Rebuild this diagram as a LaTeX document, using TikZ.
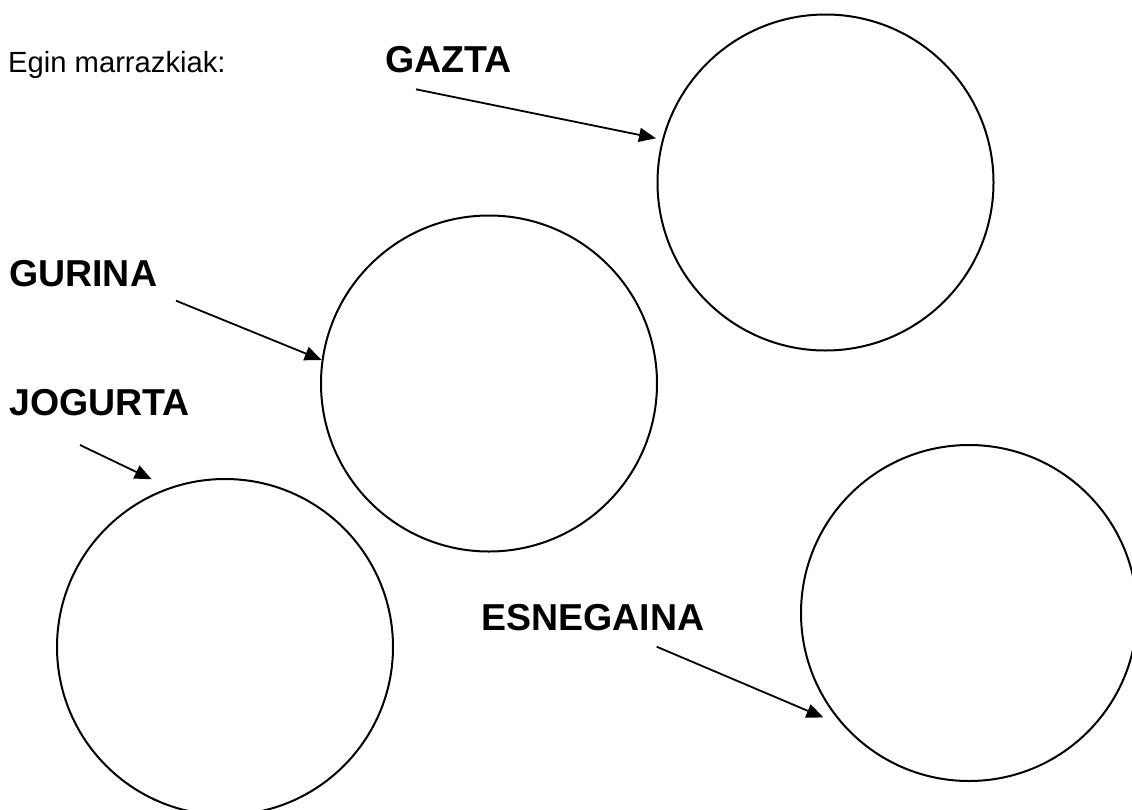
\documentclass[tikz,border=0pt]{standalone}
\usepackage{fontspec}
\setmainfont{Liberation Sans}
\usetikzlibrary{arrows.meta}
\tikzset{
  ring/.style={circle, draw=black, line width=2pt, minimum size=336pt, inner sep=0pt},
  lbl/.style={anchor=base west, inner sep=0pt, font=\fontsize{37.5}{44}\selectfont\bfseries},
  intro/.style={anchor=base west, inner sep=0pt, font=\fontsize{29.2}{34}\selectfont},
  pointer/.style={line width=1.8pt, -{Triangle[length=17pt,width=14pt]}}
}
\begin{document}
\begin{tikzpicture}[x=1pt,y=-1pt]
\fill[white] (0,0) rectangle (1132,809);
\useasboundingbox (0,0) rectangle (1132,809);
\begin{scope}
\clip (0,0) rectangle (1132,809);
\node[ring] (gazta) at (825.5,182.5) {};
\node[ring] (gurina) at (489,383.5) {};
\node[ring] (jogurta) at (225,647) {};
\node[ring] (esne) at (969,613) {};
\end{scope}
\node[intro] (egin) at (8,72.3) {Egin marrazkiak:};
\node[lbl] (tgazta) at (385,72.7) {GAZTA};
\node[lbl] (tgurina) at (9,286.7) {GURINA};
\node[lbl] (tjogurta) at (9.3,415) {JOGURTA};
\node[lbl] (tesne) at (481.3,630) {ESNEGAINA};
\coordinate (sg) at (416,89.3);
\coordinate (eg) at (656,138.3);
\coordinate (su) at (176,300.7);
\coordinate (eu) at (321.7,360);
\coordinate (sj) at (80,445);
\coordinate (ej) at (151.7,479.3);
\coordinate (se) at (656.7,646.7);
\coordinate (ee) at (823.5,717.5);
\draw[pointer] (sg) -- (eg);
\draw[pointer] (su) -- (eu);
\draw[pointer] (sj) -- (ej);
\draw[pointer] (se) -- (ee);
\end{tikzpicture}
\end{document}
